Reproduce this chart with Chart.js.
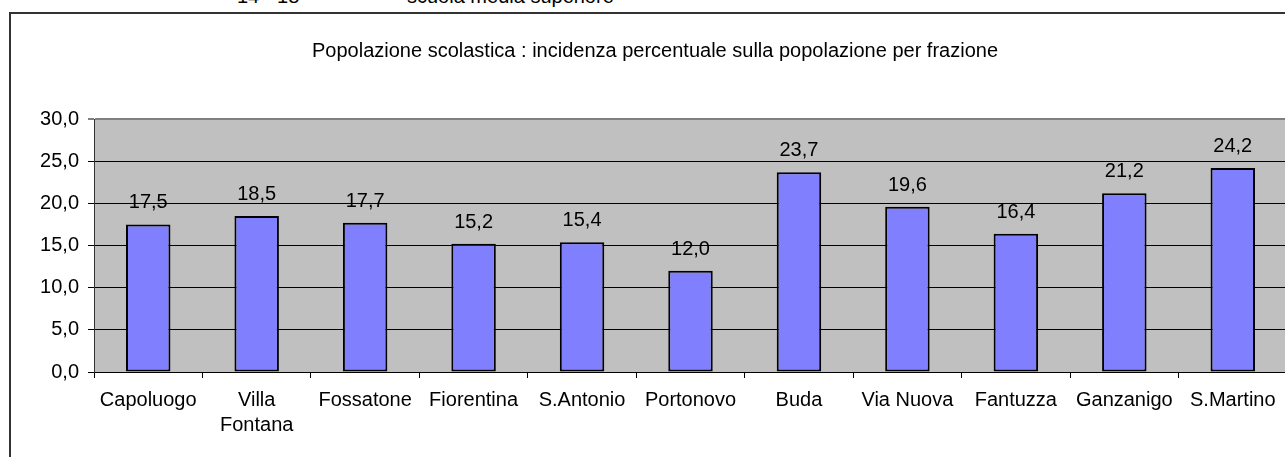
<!DOCTYPE html>
<html>
<head>
<meta charset="utf-8">
<script src="https://cdn.jsdelivr.net/npm/chart.js@4/dist/chart.umd.min.js"></script>
<style>
    body { margin: 0; width: 1285px; height: 457px; overflow: hidden; background: #fff; position: relative; font-family: "Liberation Sans", Arial, sans-serif; }
    .frame { position: absolute; left: 9px; top: 12px; width: 1320px; height: 480px; border: 2px solid #333; box-sizing: border-box; }
    .topnote { position: absolute; top: -15px; font-size: 20px; color: #000; white-space: nowrap; }
    #wrap { position: absolute; left: 0; top: 0; width: 1310px; height: 457px; }
</style>
</head>
<body>
<div class="topnote" style="left:237px">14 - 18</div>
<div class="topnote" style="left:407px">scuola media superiore</div>
<div class="frame"></div>
<div id="wrap"><canvas id="chart"></canvas></div>
<script>
const frazioni = ["Capoluogo", ["Villa", "Fontana"], "Fossatone", "Fiorentina", "S.Antonio", "Portonovo", "Buda", "Via Nuova", "Fantuzza", "Ganzanigo", "S.Martino"];
const incidenza = [17.5, 18.5, 17.7, 15.2, 15.4, 12.0, 23.7, 19.6, 16.4, 21.2, 24.2];
const yTicks = [0, 5, 10, 15, 20, 25, 30];

const FONT = "'Liberation Sans', Arial, sans-serif";
const fmt = v => v.toFixed(1).replace(".", ",");

// grey plot background
const plotBg = {
    id: "plotBg",
    beforeDraw(chart) {
        const a = chart.chartArea, c = chart.ctx;
        c.save();
        c.fillStyle = "#C0C0C0";
        c.fillRect(a.left, a.top, a.right - a.left, a.bottom - a.top);
        c.restore();
    }
};

// value labels above the bars
const valueLabels = {
    id: "valueLabels",
    afterDatasetsDraw(chart) {
        const c = chart.ctx;
        c.save();
        c.font = "20px " + FONT;
        c.fillStyle = "#000";
        c.textAlign = "center";
        c.textBaseline = "alphabetic";
        chart.getDatasetMeta(0).data.forEach((bar, i) => {
            c.fillText(fmt(incidenza[i]), bar.x, bar.y - 16);
        });
        c.restore();
    }
};

new Chart(document.getElementById("chart"), {
    type: "bar",
    data: {
        labels: frazioni,
        datasets: [{
            data: incidenza,
            backgroundColor: "#8080FF",
            borderColor: "#000",
            borderWidth: 2,
            borderSkipped: false,
            categoryPercentage: 1,
            barPercentage: 0.41
        }]
    },
    options: {
        responsive: true,
        maintainAspectRatio: false,
        animation: false,
        layout: { padding: { left: 23, right: 23, top: 0, bottom: 0 } },
        plugins: {
            legend: { display: false },
            tooltip: { enabled: false },
            title: {
                display: true,
                text: "Popolazione scolastica : incidenza percentuale sulla popolazione per frazione",
                color: "#000",
                font: { family: FONT, size: 20, weight: "normal", lineHeight: 1.2 },
                padding: { top: 39, bottom: 56 }
            }
        },
        scales: {
            x: {
                offset: true,
                grid: { offset: true, drawOnChartArea: false, drawTicks: true, tickLength: 6, color: "#000" },
                border: { color: "#000", width: 1 },
                ticks: {
                    color: "#000",
                    font: { family: FONT, size: 20, lineHeight: 1.25 },
                    padding: 10,
                    maxRotation: 0,
                    autoSkip: false
                },
                afterFit(s) { s.height = 85; }
            },
            y: {
                min: 0,
                max: 30,
                afterBuildTicks(s) { s.ticks = yTicks.map(v => ({ value: v })); },
                grid: {
                    color: c => c.tick && c.tick.value === 30 ? "#808080" : "#000",
                    lineWidth: c => c.tick && c.tick.value === 30 ? 2 : 1,
                    tickLength: 6
                },
                border: { color: "#333", width: 1 },
                ticks: {
                    color: "#000",
                    font: { family: FONT, size: 20 },
                    padding: 9,
                    callback: v => fmt(v)
                },
                afterFit(s) { s.width = 71; }
            }
        }
    },
    plugins: [plotBg, valueLabels]
});
</script>
</body>
</html>
